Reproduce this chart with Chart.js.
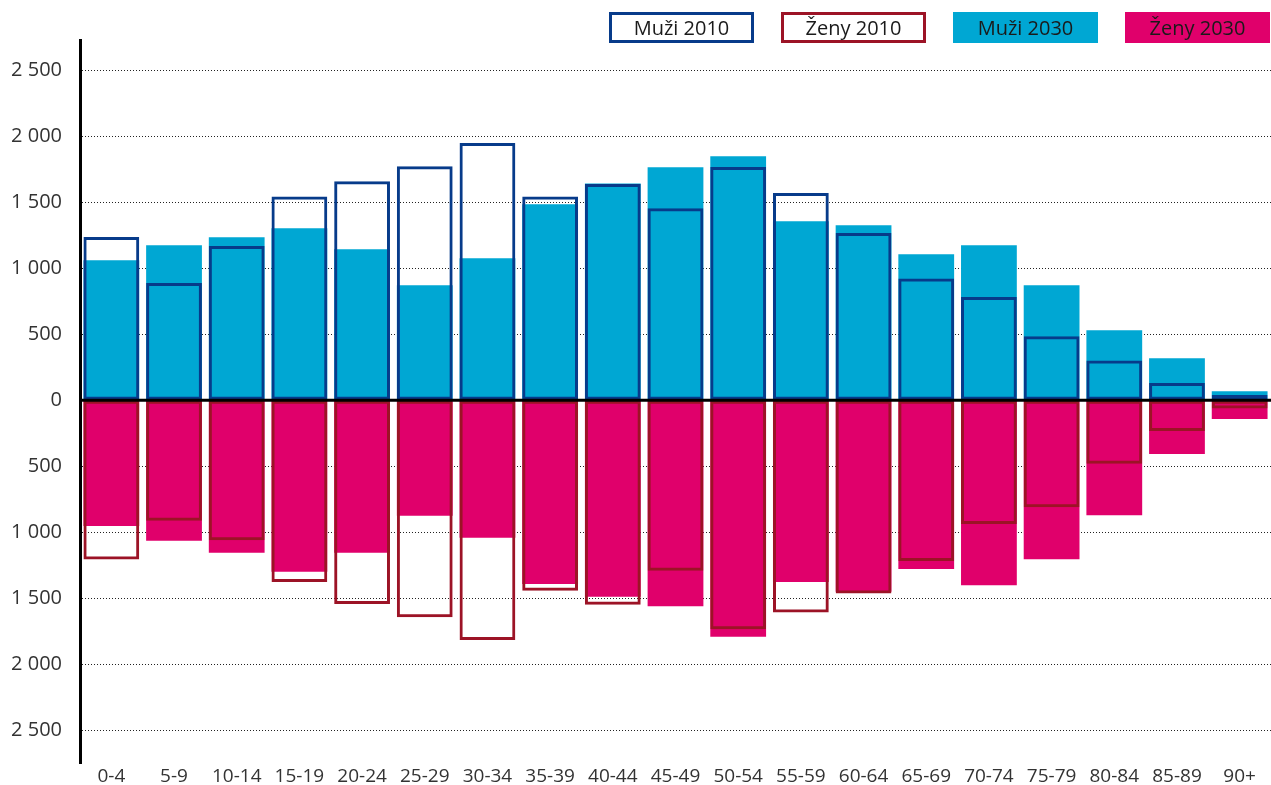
<!DOCTYPE html>
<html lang="cs">
<head>
    <meta charset="UTF-8">
    <title>Muži a ženy 2010 / 2030</title>
    <script src="https://cdn.jsdelivr.net/npm/chart.js"></script>
    <style>
        body {
            margin: 0;
            padding: 0;
            background: #fff;
            font-family: "Open Sans", sans-serif;
        }
        #wrap {
            position: relative;
            width: 1271px;
            height: 785px;
        }
        #legend {
            position: absolute;
            top: 12px;
            right: 1px;
            display: flex;
            gap: 27px;
        }
        .legendItem {
            width: 145px;
            height: 31px;
            box-sizing: border-box;
            display: flex;
            align-items: center;
            justify-content: center;
            font-size: 20px;
            color: #1a1a1a;
        }
    </style>
</head>
<body>
    <div id="wrap">
        <canvas id="chart" width="1271" height="785"></canvas>
        <div id="legend"></div>
    </div>

    <script>
        const ageGroups = ['0-4', '5-9', '10-14', '15-19', '20-24', '25-29', '30-34', '35-39', '40-44', '45-49',
            '50-54', '55-59', '60-64', '65-69', '70-74', '75-79', '80-84', '85-89', '90+'];

        const men2010 = [1237, 889, 1169, 1543, 1659, 1773, 1949, 1543, 1639, 1455,
            1768, 1571, 1268, 922, 783, 485, 300, 131, 40];
        const women2010 = [1207, 913, 1062, 1379, 1545, 1646, 1818, 1445, 1551, 1293,
            1737, 1609, 1465, 1218, 939, 811, 482, 233, 63];
        const men2030 = [1061, 1174, 1235, 1303, 1144, 871, 1076, 1485, 1642, 1765,
            1848, 1356, 1326, 1106, 1174, 871, 530, 318, 68];
        const women2030 = [954, 1066, 1157, 1301, 1157, 876, 1043, 1394, 1490, 1561,
            1793, 1379, 1452, 1280, 1402, 1205, 873, 407, 142];

        const yTicks = [-2500, -2000, -1500, -1000, -500, 0, 500, 1000, 1500, 2000, 2500];

        const blue = '#073b8a';
        const darkRed = '#9c1326';
        const cyan = '#00a7d3';
        const magenta = '#e0006b';

        function fmt(v) {
            return Math.abs(v).toString().replace(/\B(?=(\d{3})+(?!\d))/g, ' ');
        }

        // zero line drawn above the bars
        const zeroLine = {
            id: 'zeroLine',
            afterDatasetsDraw(chart) {
                const ctx = chart.ctx;
                const y = chart.scales.y.getPixelForValue(0);
                ctx.save();
                ctx.strokeStyle = '#000';
                ctx.lineWidth = 3;
                ctx.beginPath();
                ctx.moveTo(chart.chartArea.left, y);
                ctx.lineTo(chart.chartArea.right, y);
                ctx.stroke();
                ctx.restore();
            }
        };

        const chart = new Chart(document.getElementById('chart').getContext('2d'), {
            type: 'bar',
            data: {
                labels: ageGroups,
                datasets: [
                    {
                        label: 'Muži 2010',
                        data: men2010,
                        backgroundColor: 'rgba(0,0,0,0)',
                        borderColor: blue,
                        borderWidth: 3,
                        borderSkipped: false
                    },
                    {
                        label: 'Ženy 2010',
                        data: women2010.map(v => -v),
                        backgroundColor: 'rgba(0,0,0,0)',
                        borderColor: darkRed,
                        borderWidth: 3,
                        borderSkipped: false
                    },
                    {
                        label: 'Muži 2030',
                        data: men2030,
                        backgroundColor: cyan,
                        borderWidth: 0
                    },
                    {
                        label: 'Ženy 2030',
                        data: women2030.map(v => -v),
                        backgroundColor: magenta,
                        borderWidth: 0
                    }
                ]
            },
            options: {
                responsive: false,
                animation: false,
                events: [],
                layout: { padding: { top: 40, right: 0, left: 0, bottom: 0 } },
                datasets: {
                    bar: {
                        grouped: false,
                        categoryPercentage: 1.0,
                        barPercentage: 0.89
                    }
                },
                plugins: {
                    legend: { display: false },
                    tooltip: { enabled: false }
                },
                scales: {
                    x: {
                        grid: { display: false, drawTicks: false },
                        border: { display: false },
                        ticks: {
                            color: '#333',
                            padding: 2,
                            maxRotation: 0,
                            autoSkip: false,
                            font: { family: 'Open Sans', size: 19 }
                        },
                        afterFit(scale) {
                            scale.height = 22;
                            scale.paddingLeft = 0;
                            scale.paddingRight = 0;
                        }
                    },
                    y: {
                        min: -2750,
                        max: 2730,
                        afterBuildTicks(scale) {
                            scale.ticks = yTicks.map(v => ({ value: v }));
                        },
                        afterFit(scale) {
                            scale.width = 80;
                            scale.paddingTop = 0;
                            scale.paddingBottom = 0;
                        },
                        ticks: {
                            color: '#333',
                            padding: 18,
                            autoSkip: false,
                            font: { family: 'Open Sans', size: 20 },
                            callback: v => fmt(v)
                        },
                        grid: {
                            drawTicks: false,
                            lineWidth: 1,
                            color: ctx => (ctx.tick && ctx.tick.value === 0) ? 'rgba(0,0,0,0)' : '#222'
                        },
                        border: {
                            display: true,
                            color: '#000',
                            width: 3,
                            dash: [1, 2]
                        }
                    }
                }
            },
            plugins: [zeroLine]
        });

        // legend boxes with text inside, built from the datasets
        const legend = document.getElementById('legend');
        chart.data.datasets.forEach(ds => {
            const item = document.createElement('div');
            item.className = 'legendItem';
            item.textContent = ds.label;
            if (ds.borderWidth) {
                item.style.border = '3px solid ' + ds.borderColor;
                item.style.background = '#fff';
            } else {
                item.style.background = ds.backgroundColor;
            }
            legend.appendChild(item);
        });
    </script>
</body>
</html>
